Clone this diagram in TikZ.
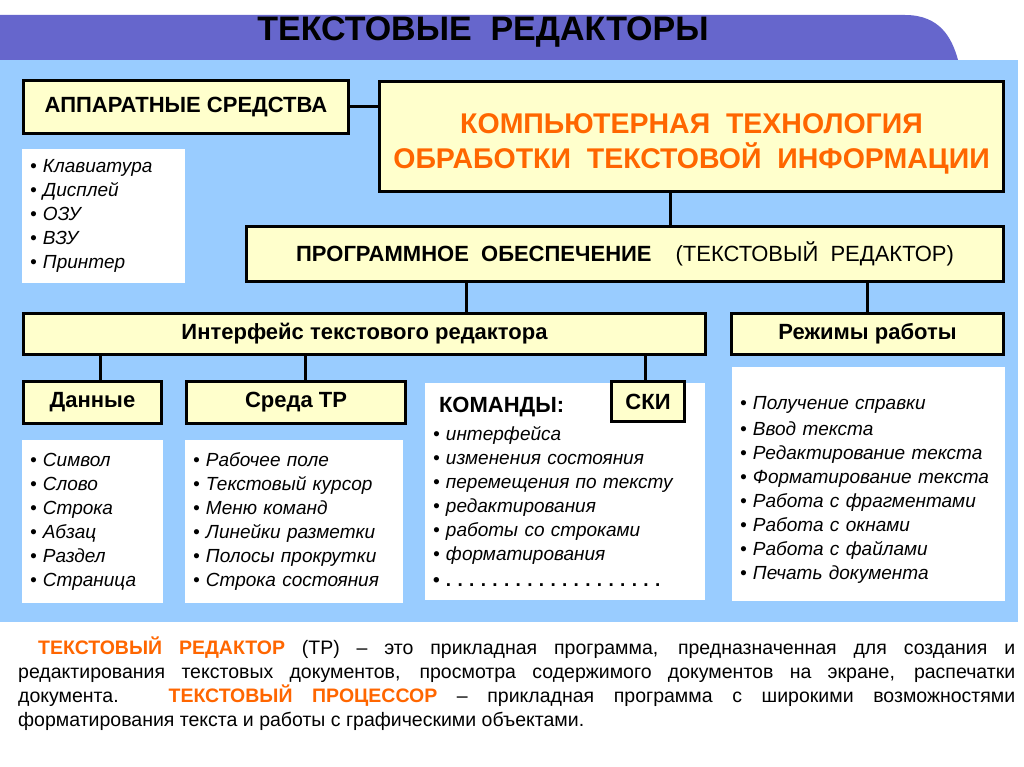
\documentclass[tikz,border=0pt]{standalone}
\usepackage{fontspec}
\setmainfont{Liberation Sans}
\usetikzlibrary{positioning,calc}
\definecolor{cream}{HTML}{FFFFCC}
\definecolor{skyblue}{HTML}{99CCFF}
\definecolor{bandviolet}{HTML}{6666CC}
\definecolor{hotorange}{HTML}{FF6600}

\begin{document}
\begin{tikzpicture}[x=1pt, y=-1pt,
  head/.style={draw, line width=3pt, fill=cream, inner sep=0pt, align=center, font=\fontsize{22}{26}\selectfont\bfseries},
  list/.style={fill=white, inner xsep=8pt, inner ysep=0pt, align=left, font=\fontsize{19}{24}\selectfont\itshape},
  link/.style={line width=3pt}
]
\useasboundingbox (0,0) rectangle (1024,767);
\fill[white] (0,0) rectangle (1024,767);
\fill[bandviolet] (0,15) -- (905,15) .. controls (940,15) and (952,38) .. (958,60) -- (0,60) -- cycle;
\fill[skyblue] (0,60) rectangle (1018,622);
\node[anchor=base, inner sep=0pt, font=\fontsize{34}{40}\selectfont\bfseries] (title) at (483,41) {ТЕКСТОВЫЕ\ \ РЕДАКТОРЫ};

% top level
\node[head, minimum width=325, minimum height=53] (hw) at (186,107) {АППАРАТНЫЕ СРЕДСТВА};
\node[head, minimum width=624, minimum height=110, text=hotorange, font=\fontsize{28.5}{35}\selectfont\bfseries] (tech) at (691.5,136.5) {\rule{0pt}{34pt}КОМПЬЮТЕРНАЯ\ \ ТЕХНОЛОГИЯ\\ОБРАБОТКИ\ \ ТЕКСТОВОЙ\ \ ИНФОРМАЦИИ};
\node[head, minimum width=757, minimum height=55] (soft) at (625,254) {ПРОГРАММНОЕ\ \ ОБЕСПЕЧЕНИЕ\hspace{24pt}{\mdseries (ТЕКСТОВЫЙ\ \ РЕДАКТОР)}};
\node[list, text width=147, minimum height=134] (hwlist) at (103.5,216) {• Клавиатура\\• Дисплей\\• ОЗУ\\• ВЗУ\\• Принтер};

% interface and modes
\node[head, minimum width=682, minimum height=41] (iface) at (364.5,334) {Интерфейс текстового редактора};
\node[head, minimum width=272, minimum height=41] (modes) at (867.5,334) {Режимы работы};
\node[head, minimum width=138, minimum height=42] (data) at (92.5,402.5) {Данные};
\node[head, minimum width=219, minimum height=42] (sreda) at (296,402.5) {Среда ТР};
\node[list, text width=264, minimum height=217] (cmd) at (565,491.5) {{\upshape\bfseries\fontsize{22}{24}\selectfont\hspace*{6pt}КОМАНДЫ:}\\[4pt]
• интерфейса\\• изменения состояния\\• перемещения по тексту\\• редактирования\\• работы со строками\\• форматирования\\[2pt]
{\upshape\bfseries • .\ .\ .\ .\ .\ .\ .\ .\ .\ .\ .\ .\ .\ .\ .\ .\ .\ .\ .}};
\node[head, minimum width=73, minimum height=40] (ski) at (648,401.5) {СКИ};
\node[list, text width=125, minimum height=163] (datalist) at (92.5,521.5) {• Символ\\• Слово\\• Строка\\• Абзац\\• Раздел\\• Страница};
\node[list, text width=202, minimum height=163] (sredalist) at (294,521.5) {• Рабочее поле\\• Текстовый курсор\\• Меню команд\\• Линейки разметки\\• Полосы прокрутки\\• Строка состояния};
\node[list, text width=257, minimum height=234] (modeslist) at (868.5,484) {\rule{0pt}{24pt}• Получение справки\\[2pt]• Ввод текста\\• Редактирование текста\\• Форматирование текста\\• Работа с фрагментами\\• Работа с окнами\\• Работа с файлами\\• Печать документа};

\draw[link] (hw.east) -- (hw.east -| tech.west);
\draw[link] ([xshift=-21pt]tech.south) -- ([xshift=-21pt]tech.south |- soft.north);
\draw[link] ([xshift=102pt]iface.north) -- ([xshift=102pt]iface.north |- soft.south);
\draw[link] (modes.north) -- (modes.north |- soft.south);
\draw[link] ([xshift=8pt]data.north) -- ([xshift=8pt]data.north |- iface.south);
\draw[link] ([xshift=9pt]sreda.north) -- ([xshift=9pt]sreda.north |- iface.south);
\draw[link] ([xshift=-3pt]ski.north) -- ([xshift=-3pt]ski.north |- iface.south);

% definition
\node[anchor=north west, inner sep=0pt, text width=997, align=justify, font=\fontsize{19.5}{24}\selectfont] (defn) at (18,637) {\hyphenpenalty=10000\hspace*{20pt}{\color{hotorange}\bfseries ТЕКСТОВЫЙ РЕДАКТОР} (ТР) – это прикладная программа, предназначенная для создания и\linebreak редактирования текстовых документов, просмотра содержимого документов на экране, распечатки\linebreak документа. {\color{hotorange}\bfseries ТЕКСТОВЫЙ ПРОЦЕССОР} – прикладная программа с широкими возможностями\linebreak форматирования текста и работы с графическими объектами.};
\end{tikzpicture}
\end{document}
